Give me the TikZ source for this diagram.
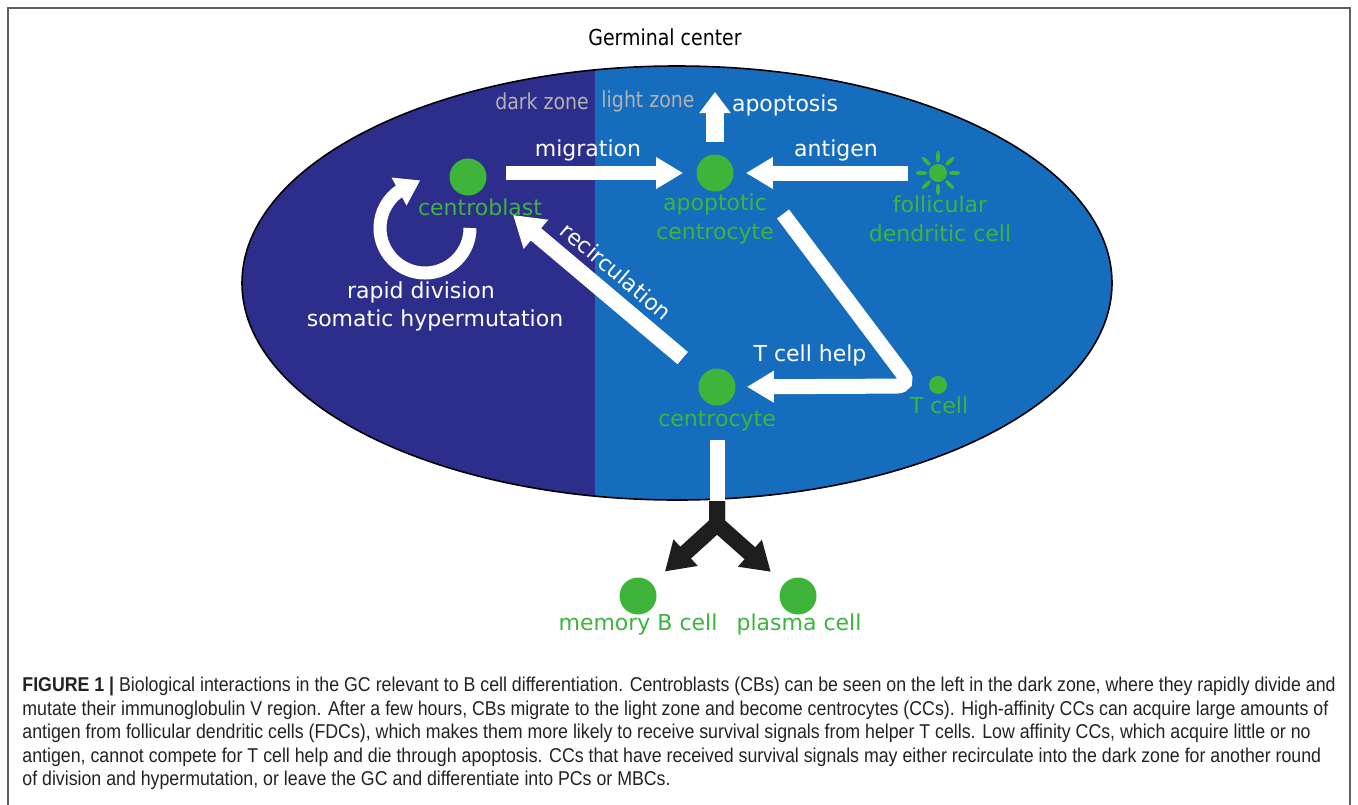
\documentclass[tikz,border=0pt]{standalone}
\usepackage{fontspec}
\setmainfont{DejaVu Sans}
\newfontfamily\condfont[FakeStretch=0.86]{DejaVu Sans}
\newfontfamily\capfont[FakeStretch=0.888]{Liberation Sans}
\usetikzlibrary{arrows.meta,calc}
\definecolor{darkz}{RGB}{45,46,140}
\definecolor{lightz}{RGB}{22,109,190}
\definecolor{cellg}{RGB}{62,180,59}
\definecolor{zonegray}{RGB}{178,178,178}
\definecolor{framegray}{RGB}{95,95,95}
\definecolor{captext}{RGB}{35,35,35}
\definecolor{forkblack}{RGB}{30,30,30}
\begin{document}
\begin{tikzpicture}[x=0.5pt,y=-0.5pt,
  cell/.style={circle,fill=cellg,inner sep=0pt,minimum size=18.5pt},
  smallcell/.style={circle,fill=cellg,inner sep=0pt,minimum size=9pt},
  lbl/.style={text=white,font=\fontsize{11}{14.5}\selectfont,inner sep=0pt},
  glbl/.style={text=cellg,font=\fontsize{11}{14.5}\selectfont,inner sep=0pt,align=center},
  zlbl/.style={text=zonegray,font=\condfont\fontsize{11}{13}\selectfont,inner sep=0pt},
  warrow/.style={draw=white,line width=7pt,-{Triangle[length=13.5pt,width=15pt]}},
  barrow/.style={draw=forkblack,line width=8pt,-{Triangle[length=14pt,width=17pt]}},
]
\useasboundingbox (0,0) rectangle (1358,804);
\fill[white] (0,0) rectangle (1358,804);
\draw[framegray, line width=1pt] (8,820) -- (8,8) -- (1350,8) -- (1350,820);

% germinal centre
\begin{scope}
\clip (677,283) ellipse (435 and 217);
\fill[darkz] (200,40) rectangle (595,530);
\fill[lightz] (595,40) rectangle (1150,530);
\end{scope}
\draw[black, line width=0.8pt] (677,283) ellipse (435 and 217);

\node[font=\condfont\fontsize{11}{13}\selectfont, inner sep=0pt] (title) at (665,37) {Germinal center};
\node[zlbl] (dzl) at (542,101) {dark zone};
\node[zlbl] (lzl) at (648,101) {light zone};

% cells
\node[cell] (cb) at (468,177) {};
\node[cell] (ac) at (715,173) {};
\node[smallcell] (fdc) at (938,173) {};
\foreach \a in {0,45,...,315}
  \fill[cellg, shift={(fdc)}, rotate=\a] (16.5,0) ellipse (6 and 2);
\node[smallcell] (tc) at (938,385) {};
\node[cell] (cc) at (717,387) {};
\node[cell] (mb) at (638,596) {};
\node[cell] (pc) at (798,596) {};

% cell labels
\node[glbl] (cbl) at (480,207) {centroblast};
\node[glbl] (acl) at (715,219) {apoptotic\\centrocyte};
\node[glbl] (fdcl) at (940,219) {follicular\\dendritic cell};
\node[glbl] (tcl) at (939,405) {T cell};
\node[glbl] (ccl) at (717,421) {centrocyte};
\node[glbl] (mbl) at (638,624) {memory B cell};
\node[glbl] (pcl) at (799,624) {plasma cell};

% process labels
\node[lbl] (migl) at (588,150) {migration};
\node[lbl] (antl) at (836,150) {antigen};
\node[lbl] (apol) at (785,105) {apoptosis};
\node[lbl] (rdl) at (421,292) {rapid division};
\node[lbl] (shl) at (435,320) {somatic hypermutation};
\node[lbl] (tchl) at (810,355) {T cell help};

% helper coordinates
\coordinate (aptip) at (715,92);
\coordinate (loopc) at (425,228);
\coordinate (th1) at (783,214);
\coordinate (th2) at (912,386);
\coordinate (wb1) at (717,440);
\coordinate (wb2) at (717,501);
\coordinate (fork) at (717,524);

% connectors
\draw[warrow, shorten <=9.5pt, shorten >=6.5pt] (cb.east |- ac.west) -- (ac.west);
\draw[warrow, line width=7.5pt, shorten <=10.5pt, shorten >=6pt] (fdc.west) -- (ac.east);
\draw[warrow, line width=9pt, -{Triangle[length=10.5pt,width=15pt]}, shorten <=6pt] (ac.north) -- (aptip);
% division loop
\draw[draw=white, line width=6.5pt] (loopc) ++(0:45) arc[start angle=0, end angle=238, radius=45];
\draw[warrow, line width=6.5pt, -{Triangle[length=12pt,width=15pt]}] (loopc) ++(232:45) -- ++(-28:26);
\draw[warrow, line width=8pt, -{Triangle[length=15pt,width=18pt]}, shorten <=13pt, shorten >=20pt] (cc) -- (cb)
  node[pos=0.46, sloped, above=3.5pt, text=white, font=\fontsize{11}{13}\selectfont, inner sep=0pt] (recl) {recirculation};
\draw[warrow, line width=7.5pt, rounded corners=8pt, shorten >=5.5pt] (th1) -- (th2) -- (cc);
\draw[draw=white, line width=7.5pt] (wb1) -- (wb2);
\draw[barrow, shorten >=8.75pt] (wb2) -- (fork) -- (mb);
\draw[barrow, shorten >=8.75pt] (wb2) -- (fork) -- (pc);

% caption
\node[anchor=north west, align=left, inner sep=0pt, text=captext,
      font=\capfont\fontsize{10}{11.75}\selectfont] (cap) at (22,677)
{\textbf{FIGURE 1 |} Biological interactions in the GC relevant to B cell differentiation. Centroblasts (CBs) can be seen on the left in the dark zone, where they rapidly divide and\\
mutate their immunoglobulin V region. After a few hours, CBs migrate to the light zone and become centrocytes (CCs). High-affinity CCs can acquire large amounts of\\
antigen from follicular dendritic cells (FDCs), which makes them more likely to receive survival signals from helper T cells. Low affinity CCs, which acquire little or no\\
antigen, cannot compete for T cell help and die through apoptosis. CCs that have received survival signals may either recirculate into the dark zone for another round\\
of division and hypermutation, or leave the GC and differentiate into PCs or MBCs.};
\end{tikzpicture}
\end{document}
